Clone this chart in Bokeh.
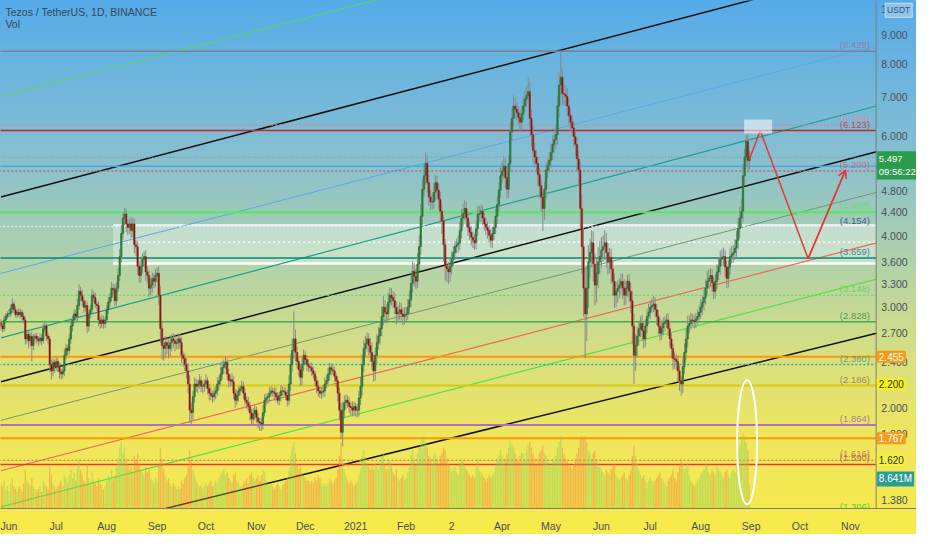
import pandas as pd
from bokeh.plotting import figure
from bokeh.models import (Range1d, LinearScale, FixedTicker, Label, Arrow, OpenHead, Span)
from bokeh.core.properties import value
from bokeh.embed import file_html
from bokeh.resources import INLINE

# ---------------- data ----------------
start_date = "2020-05-28"
first_open = 2.82
closes = [
    2.78, 2.75, 2.85, 2.89, 2.92, 2.92, 2.98, 3.04, 2.97, 2.91,
    2.94, 2.91, 2.94, 2.89, 2.85, 2.64, 2.69, 2.62, 2.67, 2.57,
    2.65, 2.67, 2.64, 2.62, 2.65, 2.62, 2.75, 2.78, 2.67, 2.64,
    2.38, 2.32, 2.40, 2.36, 2.41, 2.36, 2.31, 2.29, 2.32, 2.47,
    2.54, 2.52, 2.64, 2.78, 2.85, 2.92, 2.89, 3.02, 3.20, 3.15,
    3.08, 3.00, 3.02, 2.78, 2.92, 2.97, 3.15, 3.12, 3.04, 3.02,
    2.85, 2.81, 2.85, 2.81, 2.85, 2.97, 3.06, 3.12, 3.24, 3.22,
    3.08, 3.24, 3.41, 3.68, 4.04, 4.30, 4.37, 4.20, 4.14, 4.20,
    4.09, 4.20, 3.86, 3.83, 3.54, 3.41, 3.54, 3.64, 3.68, 3.46,
    3.41, 3.24, 3.28, 3.37, 3.33, 3.41, 3.44, 3.15, 2.75, 2.57,
    2.54, 2.60, 2.57, 2.54, 2.60, 2.64, 2.62, 2.59, 2.60, 2.64,
    2.60, 2.47, 2.44, 2.38, 2.32, 2.20, 1.98, 1.96, 2.09, 2.20,
    2.18, 2.20, 2.23, 2.18, 2.18, 2.20, 2.23, 2.16, 2.12, 2.10,
    2.09, 2.12, 2.14, 2.20, 2.23, 2.29, 2.35, 2.38, 2.40, 2.29,
    2.23, 2.24, 2.22, 2.12, 2.06, 2.10, 2.14, 2.16, 2.18, 2.12,
    2.06, 2.04, 2.01, 1.96, 1.91, 1.95, 1.98, 1.92, 1.89, 1.88,
    1.87, 1.96, 2.06, 2.08, 2.09, 2.12, 2.14, 2.13, 2.12, 2.09,
    2.06, 2.10, 2.14, 2.14, 2.13, 2.10, 2.06, 2.20, 2.38, 2.52,
    2.64, 2.50, 2.41, 2.33, 2.26, 2.38, 2.47, 2.43, 2.38, 2.36,
    2.35, 2.32, 2.29, 2.23, 2.18, 2.14, 2.12, 2.13, 2.14, 2.20,
    2.23, 2.29, 2.35, 2.33, 2.32, 2.27, 2.23, 2.12, 1.98, 1.81,
    1.98, 2.04, 2.06, 2.04, 2.01, 2.00, 1.98, 2.01, 1.98, 1.98,
    2.08, 2.18, 2.38, 2.54, 2.59, 2.64, 2.57, 2.50, 2.41, 2.32,
    2.47, 2.60, 2.67, 2.75, 2.89, 3.00, 2.94, 2.92, 3.06, 3.15,
    3.12, 3.08, 3.00, 2.92, 2.94, 2.97, 2.92, 2.89, 2.91, 2.92,
    3.00, 3.09, 3.30, 3.47, 3.40, 3.33, 3.57, 3.83, 4.33, 4.83,
    5.10, 5.36, 4.96, 4.68, 4.59, 4.59, 4.77, 4.96, 4.81, 4.64,
    4.42, 4.25, 3.86, 3.54, 3.50, 3.46, 3.54, 3.64, 3.74, 3.83,
    3.86, 3.89, 4.09, 4.30, 4.38, 4.47, 4.30, 4.14, 4.06, 3.98,
    3.93, 3.89, 4.12, 4.37, 4.38, 4.42, 4.30, 4.20, 4.14, 4.09,
    4.01, 3.93, 4.04, 4.14, 4.33, 4.54, 4.81, 5.10, 5.20, 5.30,
    5.06, 4.83, 5.36, 6.09, 6.43, 6.76, 6.68, 6.58, 6.45, 6.33,
    6.55, 6.76, 6.95, 7.05, 7.16, 6.43, 6.02, 5.64, 5.50, 5.36,
    5.12, 4.90, 4.68, 4.47, 4.83, 5.22, 5.32, 5.43, 5.61, 5.79,
    5.90, 6.02, 6.76, 7.36, 7.59, 7.11, 7.08, 7.03, 6.76, 6.50,
    6.33, 6.19, 5.97, 5.79, 5.46, 5.22, 4.47, 3.83, 3.24, 2.92,
    3.24, 3.60, 3.74, 3.89, 3.57, 3.28, 3.44, 3.60, 3.68, 3.78,
    3.83, 3.89, 3.74, 3.60, 3.67, 3.50, 3.33, 3.15, 3.20, 3.24,
    3.28, 3.33, 3.24, 3.15, 3.24, 3.33, 3.20, 3.08, 2.78, 2.47,
    2.57, 2.67, 2.75, 2.81, 2.73, 2.64, 2.78, 2.89, 2.94, 3.00,
    3.02, 3.04, 2.97, 2.89, 2.78, 2.70, 2.76, 2.81, 2.83, 2.85,
    2.75, 2.64, 2.54, 2.44, 2.43, 2.41, 2.32, 2.23, 2.20, 2.36,
    2.50, 2.64, 2.78, 2.81, 2.85, 2.84, 2.83, 2.86, 2.89, 2.94,
    3.00, 3.06, 3.12, 3.24, 3.33, 3.37, 3.41, 3.31, 3.20, 3.33,
    3.46, 3.54, 3.64, 3.67, 3.68, 3.53, 3.37, 3.53, 3.68, 3.71,
    3.74, 3.81, 3.93, 4.12, 4.30, 4.42, 5.10, 5.50, 5.86, 5.42,
    5.50,
]
upper_wick_cents = [
    4, 3, 5, 4, 3, 6, 5, 7, 3, 4,   3, 5, 4, 3, 4, 3, 5, 3, 4, 5,
    4, 3, 4, 3, 5, 4, 6, 4, 3, 4,   3, 5, 4, 3, 4, 3, 4, 3, 5, 6,
    5, 4, 6, 7, 5, 6, 5, 8, 9, 6,   7, 5, 6, 5, 4, 6, 8, 5, 6, 4,
    5, 4, 6, 5, 4, 6, 7, 6, 8, 6,   7, 8, 10, 12, 14, 9, 11, 10, 8, 9,
    12, 9, 10, 8, 9, 7, 10, 9, 8, 10,   8, 7, 9, 8, 7, 9, 8, 10, 12, 9,
    6, 7, 5, 6, 8, 5, 6, 7, 5, 6,   5, 6, 4, 5, 6, 7, 8, 6, 5, 6,
    5, 4, 6, 4, 5, 4, 6, 3, 4, 5,   4, 5, 4, 6, 5, 7, 6, 5, 6, 4,
    5, 4, 6, 5, 4, 5, 4, 3, 5, 4,   4, 3, 5, 4, 3, 5, 4, 3, 4, 3,
    4, 6, 5, 4, 3, 5, 4, 3, 4, 5,   4, 3, 5, 4, 3, 4, 5, 8, 10, 12,
    31, 10, 6, 5, 4, 7, 6, 5, 4, 5,   4, 5, 4, 3, 4, 5, 3, 4, 5, 6,
    5, 6, 5, 4, 5, 4, 3, 4, 5, 6,   7, 6, 5, 4, 5, 4, 5, 4, 3, 5,
    6, 8, 10, 9, 8, 7, 6, 8, 10, 7,   8, 9, 10, 8, 12, 14, 9, 10, 12, 10,
    9, 8, 10, 7, 8, 9, 8, 7, 9, 8,   10, 12, 15, 14, 12, 11, 16, 18, 22, 20,
    25, 24, 18, 15, 14, 16, 18, 15, 14, 13,   14, 12, 10, 9, 8, 10, 11, 12, 10, 9,
    10, 12, 14, 16, 18, 15, 12, 10, 9, 10,   9, 10, 13, 15, 14, 12, 10, 9, 11, 10,
    9, 10, 11, 12, 14, 15, 16, 18, 20, 22,   18, 15, 20, 25, 28, 30, 22, 20, 18, 20,
    22, 25, 24, 28, 43, 30, 25, 20, 18, 16,   15, 14, 13, 12, 15, 18, 16, 17, 20, 22,
    24, 25, 30, 35, 84, 30, 28, 25, 24, 22,   20, 18, 17, 15, 16, 18, 20, 25, 30, 28,
    30, 25, 22, 20, 18, 16, 20, 22, 24, 20,   18, 20, 16, 15, 14, 13, 12, 11, 12, 10,
    9, 10, 11, 12, 10, 9, 10, 11, 12, 14,   12, 10, 9, 8, 10, 9, 8, 9, 10, 8,
    9, 10, 8, 7, 8, 9, 8, 7, 6, 7,   8, 7, 6, 5, 6, 5, 6, 5, 4, 8,
    9, 10, 12, 9, 8, 7, 6, 7, 8, 9,   10, 9, 10, 12, 14, 12, 10, 9, 8, 10,
    11, 12, 13, 12, 14, 10, 9, 10, 12, 13,   12, 14, 15, 18, 20, 22, 25, 20, 16, 18,
    15,
]
lower_wick_cents = [
    5, 4, 3, 4, 3, 4, 3, 5, 4, 3,   4, 3, 4, 5, 4, 6, 5, 8, 6, 16,
    5, 4, 5, 6, 4, 5, 3, 4, 5, 6,   7, 8, 5, 6, 4, 5, 6, 5, 4, 5,
    4, 5, 4, 5, 6, 4, 5, 6, 5, 7,   6, 7, 5, 8, 6, 5, 4, 6, 5, 6,
    7, 6, 5, 6, 5, 4, 5, 6, 5, 6,   7, 6, 5, 8, 9, 10, 12, 14, 13, 10,
    12, 11, 13, 14, 12, 10, 9, 10, 11, 12,   10, 11, 9, 10, 9, 8, 10, 12, 15, 14,
    12, 10, 9, 10, 8, 9, 7, 8, 6, 7,   6, 7, 8, 6, 7, 8, 10, 9, 6, 5,
    5, 6, 4, 5, 6, 5, 4, 5, 6, 4,   5, 4, 5, 4, 5, 4, 5, 6, 4, 5,
    6, 5, 4, 5, 6, 4, 5, 4, 3, 5,   4, 5, 4, 6, 5, 4, 5, 4, 5, 6,
    5, 4, 3, 4, 5, 4, 3, 4, 5, 4,   3, 4, 5, 4, 3, 4, 5, 4, 6, 7,
    8, 9, 7, 6, 8, 7, 6, 5, 6, 5,   4, 5, 4, 5, 6, 5, 4, 5, 4, 5,
    4, 5, 6, 5, 4, 5, 6, 7, 8, 5,   10, 6, 5, 4, 5, 6, 5, 4, 5, 6,
    5, 6, 8, 7, 9, 8, 10, 9, 8, 10,   9, 8, 7, 9, 8, 10, 12, 11, 9, 8,
    10, 9, 8, 12, 10, 9, 8, 10, 9, 8,   7, 8, 9, 12, 14, 10, 9, 10, 12, 15,
    14, 18, 20, 16, 15, 14, 13, 15, 16, 18,   20, 22, 25, 20, 18, 16, 14, 12, 10, 11,
    10, 12, 11, 13, 14, 12, 15, 14, 12, 13,   12, 11, 10, 12, 13, 14, 12, 11, 12, 13,
    12, 11, 12, 10, 11, 13, 12, 14, 15, 16,   20, 18, 16, 18, 20, 22, 24, 20, 18, 22,
    20, 18, 16, 18, 20, 24, 26, 28, 22, 20,   22, 24, 26, 39, 20, 18, 16, 15, 17, 18,
    20, 22, 24, 30, 28, 32, 30, 28, 26, 24,   22, 20, 24, 26, 28, 30, 35, 40, 35, 48,
    30, 25, 22, 20, 24, 26, 22, 20, 18, 16,   18, 20, 22, 18, 16, 20, 18, 16, 15, 14,
    13, 12, 14, 13, 12, 11, 14, 15, 20, 27,   15, 12, 10, 9, 11, 10, 9, 8, 9, 8,
    7, 8, 9, 10, 9, 8, 7, 8, 9, 7,   8, 9, 10, 11, 9, 8, 10, 9, 10, 8,
    7, 8, 9, 8, 7, 6, 8, 7, 6, 7,   8, 9, 10, 9, 8, 10, 11, 12, 10, 9,
    10, 11, 12, 10, 12, 14, 13, 12, 11, 10,   12, 11, 13, 14, 15, 16, 18, 20, 22, 25,
    18,
]
volume_m = [
    9, 8, 10, 7, 8, 6, 9, 11, 8, 7,   6, 8, 7, 6, 9, 14, 10, 9, 8, 11,
    8, 7, 6, 7, 8, 6, 10, 9, 8, 7,   15, 12, 9, 8, 7, 8, 9, 10, 8, 12,
    11, 9, 12, 14, 11, 13, 10, 15, 18, 14,   12, 10, 9, 16, 11, 9, 13, 10, 9, 8,
    11, 9, 8, 7, 8, 10, 12, 11, 14, 10,   12, 15, 18, 22, 24, 20, 22, 18, 16, 14,
    15, 13, 19, 17, 20, 16, 14, 13, 12, 15,   13, 14, 11, 10, 9, 11, 10, 16, 22, 18,
    14, 12, 10, 11, 9, 8, 9, 8, 7, 8,   7, 10, 9, 11, 12, 15, 21, 18, 14, 12,
    10, 9, 8, 8, 7, 8, 9, 8, 9, 10,   8, 9, 10, 9, 11, 12, 13, 14, 12, 13,
    11, 10, 9, 12, 13, 10, 9, 8, 8, 9,   10, 11, 9, 12, 13, 11, 10, 11, 12, 10,
    12, 14, 13, 10, 9, 8, 9, 8, 7, 8,   9, 8, 7, 8, 9, 10, 11, 14, 19, 22,
    24, 20, 16, 14, 15, 13, 12, 11, 10, 10,   9, 10, 9, 11, 10, 12, 11, 9, 8, 9,
    8, 9, 11, 10, 9, 10, 11, 14, 19, 24,   18, 14, 12, 10, 9, 10, 9, 8, 9, 10,
    12, 14, 19, 21, 18, 16, 15, 14, 16, 14,   16, 15, 14, 17, 19, 20, 16, 14, 18, 17,
    15, 13, 12, 14, 11, 10, 11, 12, 10, 11,   13, 15, 19, 21, 18, 16, 20, 22, 24, 25,
    26, 24, 22, 19, 18, 16, 19, 20, 18, 16,   19, 20, 22, 21, 18, 16, 15, 13, 14, 15,
    13, 12, 16, 18, 17, 15, 14, 13, 12, 11,   12, 11, 15, 18, 14, 13, 12, 11, 10, 11,
    12, 11, 12, 13, 15, 18, 19, 21, 19, 17,   18, 20, 22, 24, 23, 22, 20, 18, 17, 19,
    20, 20, 18, 21, 23, 24, 22, 20, 18, 16,   18, 20, 21, 23, 20, 19, 17, 15, 16, 18,
    17, 19, 22, 24, 26, 22, 20, 18, 17, 16,   15, 14, 16, 18, 20, 22, 25, 26, 25, 26,
    24, 21, 20, 18, 20, 21, 18, 16, 15, 14,   13, 12, 14, 13, 12, 14, 15, 16, 12, 11,
    10, 11, 12, 13, 11, 10, 12, 14, 19, 23,   19, 16, 14, 12, 11, 12, 10, 9, 10, 11,
    10, 9, 10, 11, 12, 13, 11, 10, 9, 8,   10, 11, 12, 14, 11, 10, 13, 15, 18, 16,
    14, 15, 16, 12, 10, 9, 8, 9, 10, 11,   12, 13, 14, 16, 15, 13, 12, 14, 13, 12,
    15, 14, 13, 12, 11, 13, 14, 12, 11, 13,   14, 13, 16, 20, 23, 26, 27, 26, 24, 21,
    8.641,
]

# price-scale ticks and time labels
price_ticks = [10.0, 9.0, 8.0, 7.0, 6.0, 4.8, 4.4, 4.0, 3.6, 3.3, 3.0, 2.7, 2.4, 2.0, 1.8, 1.5, 1.38]
month_dates = ["2020-06-01", "2020-07-01", "2020-08-01", "2020-09-01", "2020-10-01", "2020-11-01",
               "2020-12-01", "2021-01-01", "2021-02-01", "2021-03-01", "2021-04-01", "2021-05-01",
               "2021-06-01", "2021-07-01", "2021-08-01", "2021-09-01", "2021-10-01", "2021-11-01"]
month_labels = ["Jun", "Jul", "Aug", "Sep", "Oct", "Nov", "Dec", "2021", "Feb", "2", "Apr", "May",
                "Jun", "Jul", "Aug", "Sep", "Oct", "Nov"]

# horizontal price levels: price, colour, dash, width
level_prices = [8.429, 6.259, 6.123, 5.497, 5.30, 5.20, 4.40, 4.154, 3.659, 3.148, 2.828,
                2.455, 2.380, 2.186, 1.864, 1.767, 1.616, 1.590]
level_colors = ["#80808a", "#c88c9c", "#c62828", "#7f8c8c", "#4aa8e8", "#b06a7a", "#4cef4c",
                "#e8eef0", "#00897b", "#66d66a", "#3fae4f", "#ff9800", "#3aa88a", "#d8c810",
                "#b070c0", "#ff9800", "#c08070", "#e53935"]
level_dashes = ["solid", "2 2", "solid", "1 2", "solid", "2 2", "solid", "2 2", "solid", "2 2",
                "solid", "solid", "2 2", "solid", "solid", "solid", "2 2", "solid"]
level_widths = [1.5, 1.5, 1.5, 1, 1.5, 1.5, 2, 1.5, 1.5, 1.2, 1.5, 2, 1.5, 2, 2, 2, 1.2, 1.5]

level_label_texts = ["(8.429)", "(6.259)", "(6.123)", "(5.200)", "(4.400)", "(4.154)", "(3.659)",
                     "(3.148)", "(2.828)", "(2.380)", "(2.186)", "(1.864)", "(1.616)", "(1.590)", "(1.306)"]
level_label_prices = [8.429, 6.259, 6.123, 5.20, 4.40, 4.154, 3.659, 3.148, 2.828, 2.380, 2.186,
                      1.864, 1.616, 1.590, 1.306]
level_label_colors = ["#8e7a9a", "#e08a9a", "#a04050", "#d06070", "#5ee05e", "#2a4a7a", "#1a7a7a",
                      "#5ccc5c", "#3a8a4a", "#3a9a8a", "#8a7a40", "#9a6aaa", "#b07050", "#c05050",
                      "#33cc33"]

# white zone
zone_start = 69
zone_top, zone_mid, zone_bottom = 4.18, 3.90, 3.58

# channel lines: start index/price, end index/price
chan_x0 = [0, 0, 0, 0, 0, 0, 0, 0, 0]
chan_y0 = [4.68, 7.03, 3.44, 2.65, 2.22, 1.90, 1.55, 1.34, 1.13]
chan_x1 = [538, 538, 538, 538, 538, 538, 538, 538, 538]
chan_y1 = [11.84, 17.4, 8.62, 6.76, 5.62, 4.77, 3.89, 3.36, 2.70]
chan_colors = ["#111111", "#5ad85a", "#5aa9e6", "#1e9e8e", "#111111", "#6f9a6f", "#ee6a55", "#55e04a", "#111111"]
chan_widths = [1.5, 1, 1, 1.2, 1.5, 1, 1.2, 1.2, 1.5]

# projected path (red zigzag)
proj_idx = [460, 466.6, 496, 519]
proj_price = [5.46, 6.12, 3.65, 5.22]

# price-scale tags: text, price, background, text colour
tag_texts = ["2.455", "2.200", "1.767", "1.620", "8.641M"]
tag_prices = [2.455, 2.200, 1.767, 1.620, 1.50]
tag_bg = ["#f59b1c", "#f4f21c", "#f59b1c", "#f4f03a", "#2a9d94"]
tag_fg = ["#fff6e0", "#333333", "#ffffff", "#333333", "#ffffff"]
current_price = 5.497
countdown = "09:56:22"

# ---------------- derived ----------------
n = len(closes)
idx = list(range(n))
opens = [first_open] + closes[:-1]
highs = [max(o, c) + u / 100 for o, c, u in zip(opens, closes, upper_wick_cents)]
lows = [min(o, c) - l / 100 for o, c, l in zip(opens, closes, lower_wick_cents)]
up = [c >= o for o, c in zip(opens, closes)]

t0 = pd.Timestamp(start_date)
month_idx = [(pd.Timestamp(d) - t0).days for d in month_dates]

FONT = "Liberation Sans"
SEP = 537.8          # price-scale separator (index units)
SCALE_X = 541.0      # left edge of price-scale text
TAG_X = 538.2

p = figure(width=916, height=534, output_backend="svg", toolbar_location=None,
           y_axis_type="log", y_axis_location=None,
           x_range=Range1d(-0.24, 562.6), y_range=Range1d(1.331, 10.35),
           min_border_left=0, min_border_top=0, min_border_right=0, min_border_bottom=20)
p.background_fill_color = None
p.border_fill_color = None
p.outline_line_color = None
p.styles = {"background": "linear-gradient(to bottom, #55abe9 0%, #84bed2 28%, #b3d3a8 50%, "
                          "#d9df80 67%, #efe65c 82%, #f8ea4a 100%)"}
p.xgrid.visible = False
p.ygrid.visible = False

p.extra_y_ranges = {"vol": Range1d(0, 183)}
p.extra_y_scales = {"vol": LinearScale()}

# time axis
p.xaxis.ticker = FixedTicker(ticks=month_idx)
p.xaxis.major_label_overrides = {m: lab for m, lab in zip(month_idx, month_labels)}
p.xaxis.major_tick_line_color = None
p.xaxis.minor_tick_line_color = None
p.xaxis.axis_line_color = "#7d8078"
p.xaxis.major_label_text_font = FONT
p.xaxis.major_label_text_color = "#4a4f5a"
p.xaxis.major_label_text_font_size = "10.5px"
p.xaxis.major_label_standoff = 5

# price-scale separator and labels
p.add_layout(Span(location=SEP, dimension="height", line_color="#7d8078", line_width=1))
p.text(x=[SCALE_X] * len(price_ticks), y=price_ticks, text=[f"{t:.3f}" for t in price_ticks],
       text_font=value(FONT), text_font_size="10.5px", text_color="#4a4f5a",
       text_baseline="middle", text_align="left")

# white zone
p.quad(left=[zone_start], right=[SEP], top=[zone_top], bottom=[zone_bottom],
       fill_color="white", fill_alpha=0.35, line_color=None)
p.segment(x0=[zone_start], x1=[SEP], y0=[zone_bottom], y1=[zone_bottom], line_color="white", line_width=2.5)
p.segment(x0=[zone_start], x1=[SEP], y0=[zone_top], y1=[zone_top], line_color="white", line_width=1.5, line_alpha=0.9)
p.segment(x0=[zone_start], x1=[SEP], y0=[zone_mid], y1=[zone_mid], line_color="white",
          line_width=1.5, line_dash="2 3")

# channel lines
p.segment(x0=chan_x0, y0=chan_y0, x1=chan_x1, y1=chan_y1, line_color=chan_colors, line_width=chan_widths)

# horizontal levels
for pr, col, dash, w in zip(level_prices, level_colors, level_dashes, level_widths):
    p.segment(x0=[-1], x1=[SEP], y0=[pr], y1=[pr], line_color=col, line_dash=dash, line_width=w)

# volume
vol_colors = ["#8fcf5a" if u else "#f08a40" for u in up]
p.vbar(x=idx, top=volume_m, bottom=0, width=0.8, fill_color=vol_colors, fill_alpha=0.5,
       line_color=None, y_range_name="vol")

# candles
p.segment(x0=idx, x1=idx, y0=lows, y1=highs, line_color="#8a8a8a", line_width=1)
ui = [i for i in idx if up[i]]
di = [i for i in idx if not up[i]]
p.vbar(x=ui, bottom=[opens[i] for i in ui], top=[closes[i] for i in ui], width=0.85,
       fill_color="#2a8c3c", line_color="#1d6a2c", line_width=0.6)
p.vbar(x=di, bottom=[closes[i] for i in di], top=[opens[i] for i in di], width=0.85,
       fill_color="#5c1a14", line_color="#b3261e", line_width=0.6)

# projection
p.line(proj_idx, proj_price, line_color="#e53935", line_width=1.5)
p.add_layout(Arrow(end=OpenHead(size=8, line_color="#e53935", line_width=1.5),
                   x_start=proj_idx[-2], y_start=proj_price[-2], x_end=proj_idx[-1], y_end=proj_price[-1],
                   line_color="#e53935", line_width=1.5))
p.rect(x=[465.3], y=[6.22], width=28, height=14, width_units="screen", height_units="screen",
       fill_color="white", fill_alpha=0.55, line_color=None)
p.ellipse(x=[458.5], y=[1.739], width=20, height=124, width_units="screen", height_units="screen",
          fill_color=None, line_color="white", line_width=2)

# level labels
for t, pr, col in zip(level_label_texts, level_label_prices, level_label_colors):
    p.add_layout(Label(x=534, y=pr, text=t, text_align="right", text_baseline="bottom",
                       text_font=FONT, text_font_size="9.5px", text_color=col, text_alpha=0.85, y_offset=1))

# price-scale tags
for t, pr, bg, fg in zip(tag_texts, tag_prices, tag_bg, tag_fg):
    p.add_layout(Label(x=TAG_X, y=pr, text=t, text_baseline="middle",
                       text_font=FONT, text_font_size="10px", text_color=fg,
                       background_fill_color=bg, padding=2))
p.add_layout(Label(x=TAG_X, y=current_price, text=f"{current_price:.3f}\n{countdown}",
                   text_baseline="top", y_offset=6, text_font=FONT, text_font_size="9.5px",
                   text_color="white", background_fill_color="#2a9c4c", padding=2))
p.add_layout(Label(x=543.3, y=9.95, text="USDT", text_baseline="middle",
                   text_font=FONT, text_font_size="8.5px", text_color="#3d5066",
                   background_fill_color="#8cc4ec", border_line_color="#c8e0f4", padding=2))

# header
p.add_layout(Label(x=2.8, y=9.88, text="Tezos / TetherUS, 1D, BINANCE",
                   text_baseline="middle", text_font=FONT, text_font_size="10.5px", text_color="#36475a"))
p.add_layout(Label(x=2.8, y=9.43, text="Vol", text_baseline="middle",
                   text_font=FONT, text_font_size="10.5px", text_color="#36475a"))

open("out.html", "w").write(file_html(p, INLINE))
